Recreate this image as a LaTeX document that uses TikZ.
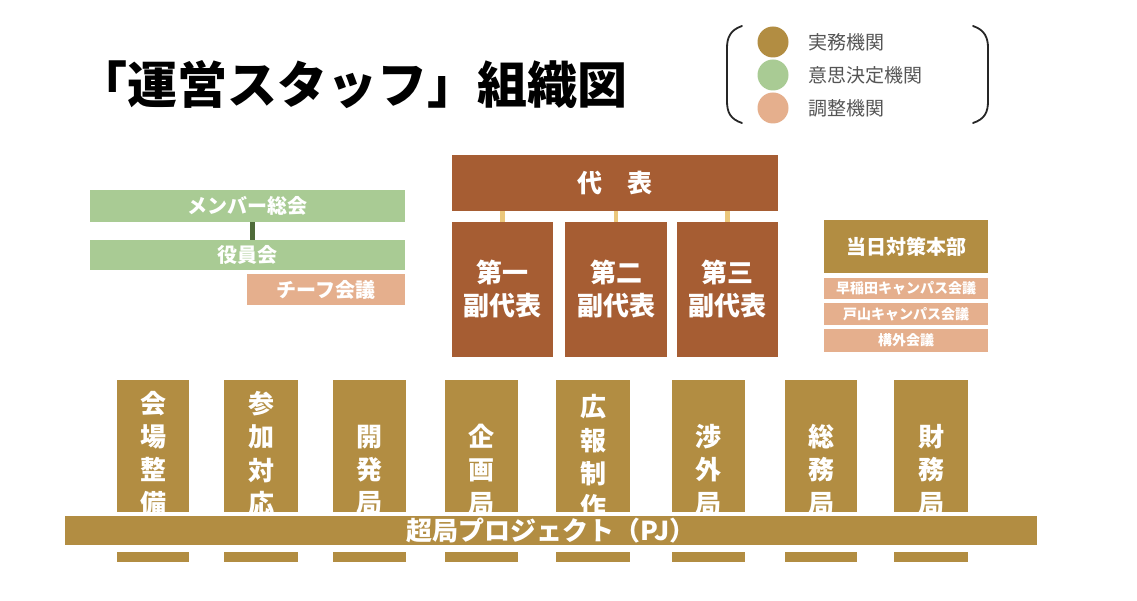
\documentclass[tikz,border=0pt]{standalone}
\usepackage{fontspec}
\newfontfamily\cjk{Noto Sans CJK JP}
\definecolor{gold}{HTML}{B28D42}
\definecolor{rust}{HTML}{A65D33}
\definecolor{sage}{HTML}{A9CB94}
\definecolor{salmon}{HTML}{E5AF8D}
\definecolor{lightgold}{HTML}{EBC77B}
\definecolor{darkgreen}{HTML}{4F6B3A}
\definecolor{legendgray}{HTML}{555555}
\tikzset{
  box/.style={draw=none, inner sep=0pt, text=white, font=\cjk\bfseries},
  goldbox/.style={box, fill=gold},
  rustbox/.style={box, fill=rust},
  greenbox/.style={box, fill=sage},
  salmonbox/.style={box, fill=salmon},
  coltext/.style={inner sep=0pt, text=white, align=center, font=\cjk\bfseries\fontsize{26}{33.3}\selectfont},
  legtext/.style={anchor=west, inner sep=0pt, text=legendgray, font=\cjk\fontsize{19}{22}\selectfont},
  legdot/.style={circle, inner sep=0pt, minimum size=31pt, draw=none},
  bracket/.style={draw=black!85, line width=1.8pt, line cap=round},
  lefttext/.style={font=\cjk\bfseries\fontsize{20}{22}\selectfont},
}
\begin{document}
\begin{tikzpicture}[x=1pt,y=-1pt]
\useasboundingbox[fill=white] (0,0) rectangle (1137,601);

% title
\node[anchor=west, inner sep=0pt, font=\cjk\bfseries\fontsize{50}{54}\selectfont] (title) at (77,85) {「運営スタッフ」組織図};

% legend
\node[legdot, fill=gold] (d1) at (773,42) {};
\node[legdot, fill=sage] (d2) at (773,75) {};
\node[legdot, fill=salmon] (d3) at (773,108) {};
\node[legtext] (l1) at (808,42) {実務機関};
\node[legtext] (l2) at (808,75) {意思決定機関};
\node[legtext] (l3) at (808,108) {調整機関};
\draw[bracket] (742,26) .. controls (730,30) and (727,38) .. (727,48) -- (727,101) .. controls (727,112) and (730,119) .. (742,123);
\draw[bracket] (973,26) .. controls (985,30) and (988,38) .. (988,48) -- (988,101) .. controls (988,112) and (985,119) .. (973,123);

% left group
\node[greenbox, lefttext, minimum width=315pt, minimum height=32pt] (member) at (247.5,206) {メンバー総会};
\node[greenbox, lefttext, minimum width=315pt, minimum height=30pt] (yakuin) at (247.5,255) {役員会};
\node[salmonbox, lefttext, minimum width=158pt, minimum height=31pt] (chief) at (326,289.5) {チーフ会議};
\draw[darkgreen, line width=5pt] ([xshift=4.5pt]member.south) -- ([xshift=4.5pt]yakuin.north);

% center group
\node[rustbox, minimum width=326pt, minimum height=56pt, font=\cjk\bfseries\fontsize{25}{28}\selectfont] (daihyo) at (615,183) {代　表};
\node[rustbox, minimum width=101pt, minimum height=135pt, align=center, font=\cjk\bfseries\fontsize{26}{33}\selectfont] (fuku1) at (502.5,289.5) {第一\\副代表};
\node[rustbox, minimum width=102pt, minimum height=135pt, align=center, font=\cjk\bfseries\fontsize{26}{33}\selectfont] (fuku2) at (616,289.5) {第二\\副代表};
\node[rustbox, minimum width=101pt, minimum height=135pt, align=center, font=\cjk\bfseries\fontsize{26}{33}\selectfont] (fuku3) at (727.5,289.5) {第三\\副代表};
\foreach \f in {fuku1,fuku2,fuku3}
  \draw[lightgold, line width=4.5pt] (\f.north) -- (\f.north |- daihyo.south);

% right group
\node[goldbox, minimum width=164pt, minimum height=53pt, font=\cjk\bfseries\fontsize{20}{24}\selectfont] (honbu) at (906,246.5) {当日対策本部};
\node[salmonbox, minimum width=164pt, minimum height=21pt, font=\cjk\bfseries\fontsize{14}{16}\selectfont] (waseda) at (906,288.5) {早稲田キャンパス会議};
\node[salmonbox, minimum width=164pt, minimum height=22pt, font=\cjk\bfseries\fontsize{14}{16}\selectfont] (toyama) at (906,314) {戸山キャンパス会議};
\node[salmonbox, minimum width=164pt, minimum height=23pt, font=\cjk\bfseries\fontsize{14}{16}\selectfont] (kogai) at (906,340.5) {構外会議};

% columns
\node[goldbox, minimum width=72pt, minimum height=182pt] (c1) at (153,471) {};
\node[goldbox, minimum width=74pt, minimum height=182pt] (c2) at (261,471) {};
\node[goldbox, minimum width=73pt, minimum height=182pt] (c3) at (369.5,471) {};
\node[goldbox, minimum width=73pt, minimum height=182pt] (c4) at (481.5,471) {};
\node[goldbox, minimum width=74pt, minimum height=182pt] (c5) at (593,471) {};
\node[goldbox, minimum width=73pt, minimum height=182pt] (c6) at (708,471) {};
\node[goldbox, minimum width=72pt, minimum height=182pt] (c7) at (821,471) {};
\node[goldbox, minimum width=74pt, minimum height=182pt] (c8) at (931,471) {};

\node[coltext] (t1) at (c1 |- 0,453.5) {会\\場\\整\\備};
\node[coltext] (t2) at (c2 |- 0,453.5) {参\\加\\対\\応};
\node[coltext] (t3) at (c3 |- 0,470) {開\\発\\局};
\node[coltext] (t4) at (c4 |- 0,470) {企\\画\\局};
\node[coltext] (t5) at (c5 |- 0,457) {広\\報\\制\\作};
\node[coltext] (t6) at (c6 |- 0,470) {渉\\外\\局};
\node[coltext] (t7) at (c7 |- 0,470) {総\\務\\局};
\node[coltext] (t8) at (c8 |- 0,470) {財\\務\\局};

% PJ bar
\fill[white] (58,512) rectangle (1044,551.5);
\node[goldbox, minimum width=972pt, minimum height=29pt, font=\cjk\bfseries\fontsize{26}{28}\selectfont] (pj) at (551,530.5) {超局プロジェクト（PJ）};
\end{tikzpicture}
\end{document}
